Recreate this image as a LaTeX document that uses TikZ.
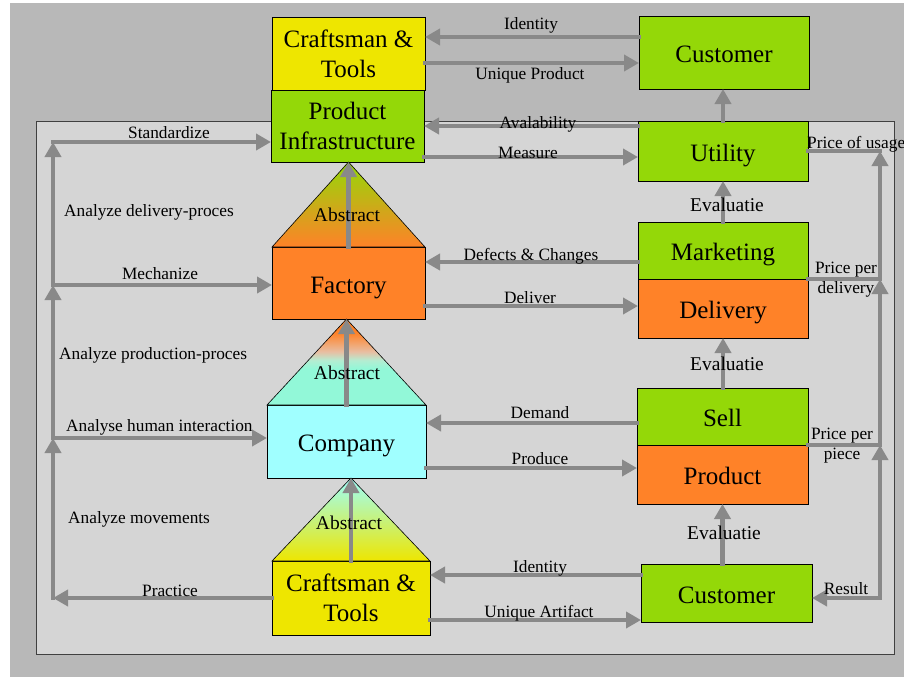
\documentclass[tikz,border=0pt]{standalone}
\usepackage{fontspec}
\setmainfont{Liberation Serif}
\usetikzlibrary{arrows.meta}

\definecolor{bgouter}{HTML}{B8B8B8}
\definecolor{bginner}{HTML}{D5D5D5}
\definecolor{flowgray}{HTML}{898989}
\definecolor{craftyellow}{HTML}{EEE600}
\definecolor{leafgreen}{HTML}{94D808}
\definecolor{factorange}{HTML}{FF8228}
\definecolor{compcyan}{HTML}{A0FFFF}
\definecolor{mint}{HTML}{92F8D8}
\definecolor{palepeach}{HTML}{E8BEA2}
\definecolor{palemint}{HTML}{B4EDD2}
\definecolor{olive}{HTML}{D2B422}

\pgfdeclareverticalshading{roofcompany}{100bp}{color(0bp)=(mint); color(46bp)=(mint);
  color(51bp)=(palemint); color(56bp)=(palepeach); color(67bp)=(factorange); color(100bp)=(factorange)}

\tikzset{
  box/.style={draw=black, line width=0.8pt, align=center, inner sep=0pt, outer sep=0pt,
    font=\fontsize{25}{30}\selectfont},
  onebox/.style={box, text height=20pt, text depth=0pt},
  flowline/.style={draw=flowgray, line width=4.5pt, line cap=rect},
  flow/.style={flowline, -{Triangle[length=15pt,width=16pt]}},
  lbl/.style={font=\fontsize{17.3}{20}\selectfont, align=center, inner sep=0pt, yshift=-2pt},
  biglbl/.style={font=\fontsize{19.5}{22}\selectfont, inner sep=0pt}
}

\begin{document}
\begin{tikzpicture}[x=1pt, y=-1pt]
        \useasboundingbox (0,0) rectangle (904,677);
        \fill[bgouter] (10,3) rectangle (904,677);
        \draw[fill=bginner, draw=black!75, line width=0.8pt] (36,121) rectangle (894,654);

        % boxes
        \node[box, fill=craftyellow, minimum width=153pt, minimum height=73pt] (craftT) at (348.5,53.5) {Craftsman \&\\Tools};
        \node[box, fill=leafgreen, minimum width=153pt, minimum height=72pt] (infra) at (347.5,126) {Product\\Infrastructure};
        \node[onebox, fill=leafgreen, minimum width=170pt, minimum height=73pt] (custT) at (724,52.5) {Customer};
        \node[onebox, fill=leafgreen, minimum width=170pt, minimum height=60pt] (util) at (723,151) {Utility};
        \node[onebox, fill=leafgreen, minimum width=170pt, minimum height=57pt] (market) at (723,250.5) {Marketing};
        \node[onebox, fill=factorange, minimum width=170pt, minimum height=59pt] (deliv) at (723,308.5) {Delivery};
        \node[onebox, fill=factorange, minimum width=153pt, minimum height=72pt] (fact) at (348.5,283) {Factory};
        \node[onebox, fill=compcyan, minimum width=159pt, minimum height=73pt] (comp) at (346.5,441.5) {Company};
        \node[box, fill=craftyellow, minimum width=158pt, minimum height=74pt] (craftB) at (351,598) {Craftsman \&\\Tools};
        \node[onebox, fill=leafgreen, minimum width=171pt, minimum height=57pt] (sell) at (722.5,416.5) {Sell};
        \node[onebox, fill=factorange, minimum width=171pt, minimum height=59pt] (prod) at (722.5,474.5) {Product};
        \node[onebox, fill=leafgreen, minimum width=171pt, minimum height=58pt] (custB) at (726.5,593) {Customer};

        % abstraction roofs
        \draw[top color=leafgreen, middle color=olive, bottom color=factorange, line width=0.6pt] (fact.north west) -- (fact.north |- infra.south) -- (fact.north east) -- cycle;
        \draw[shading=roofcompany, line width=0.6pt] (comp.north west) -- (comp.north |- fact.south) -- (comp.north east) -- cycle;
        \draw[top color=compcyan!85!mint, bottom color=craftyellow, line width=0.6pt] (craftB.north west) -- (craftB.north |- comp.south) -- (craftB.north east) -- cycle;

        \draw[flow] (fact.north) -- (fact.north |- infra.south);
        \draw[flow] (comp.north) -- (comp.north |- fact.south);
        \draw[flow] (craftB.north) -- (craftB.north |- comp.south);

        % horizontal flows
        \draw[flow] (custT.west |- 0,37) -- (craftT.east |- 0,37);
        \draw[flow] (craftT.east |- 0,63) -- (custT.west |- 0,63);
        \draw[flow] (util.west |- 0,126) -- (infra.east |- 0,126);
        \draw[flow] (infra.east |- 0,157) -- (util.west |- 0,157);
        \draw[flow] (market.west |- 0,262) -- (fact.east |- 0,262);
        \draw[flow] (fact.east |- 0,306) -- (deliv.west |- 0,306);
        \draw[flow] (sell.west |- 0,423) -- (comp.east |- 0,423);
        \draw[flow] (comp.east |- 0,468) -- (prod.west |- 0,468);
        \draw[flow] (custB.west |- 0,575) -- (craftB.east |- 0,575);
        \draw[flow] (craftB.east |- 0,620) -- (custB.west |- 0,620);

        % evaluations
        \draw[flow] (util.north) -- (util.north |- custT.south);
        \foreach \a/\b in {market/util, sell/deliv, custB/prod}{
          \draw[flow] (\a.north -| \b.south) -- (\b.south);}

        % left loop
        \coordinate (l1) at (53,142);
        \coordinate (l2) at (53,285);
        \coordinate (l3) at (53,438);
        \coordinate (l4) at (53,598);
        \draw[flow] (craftB.west) -- (l4);
        \draw[flow] (l4) -- (l3);
        \draw[flow] (l3) -- (l2);
        \draw[flow] (l2) -- (l1);
        \draw[flow] (l3) -- (comp.west |- l3);
        \draw[flow] (l2) -- (fact.west |- l2);
        \draw[flow] (l1) -- (infra.west |- l1);

        % right loop
        \coordinate (r1) at (880,151);
        \coordinate (r2) at (880,279);
        \coordinate (r3) at (880,445);
        \coordinate (r4) at (880,598);
        \draw[flowline] (util.east) -- (r1);
        \draw[flowline] (deliv.north east) -- (r2);
        \draw[flowline] (prod.north east) -- (r3);
        \draw[flow] (r4) -- (r3);
        \draw[flow] (r3) -- (r2);
        \draw[flow] (r2) -- (r1);
        \draw[flow] (r4) -- (custB.east |- r4);

        % labels
        \node[lbl] (tIdT) at (531,23) {Identity};
        \node[lbl] (tUniq) at (530,73) {Unique Product};
        \node[lbl] (tAval) at (538,122) {Avalability};
        \node[lbl] (tMeas) at (528,151) {Measure};
        \node[lbl] (tDef) at (531,254) {Defects \& Changes};
        \node[lbl] (tDel) at (530,296) {Deliver};
        \node[lbl] (tDem) at (540,411) {Demand};
        \node[lbl] (tProd) at (540,457) {Produce};
        \node[lbl] (tIdB) at (540,566) {Identity};
        \node[lbl] (tArt) at (539,611) {Unique Artifact};
        \node[lbl] (tStd) at (169,131) {Standardize};
        \node[lbl, anchor=west] (tAdp) at (64,210) {Analyze delivery-proces};
        \node[lbl] (tMech) at (160,272) {Mechanize};
        \node[lbl, anchor=west] (tApp) at (59,353) {Analyze production-proces};
        \node[lbl, anchor=west] (tAhi) at (66,425) {Analyse human interaction};
        \node[lbl, anchor=west] (tAmv) at (68,517) {Analyze movements};
        \node[lbl] (tPrac) at (170,589) {Practice};
        \node[lbl, anchor=west] (tUsage) at (807,142) {Price of usage};
        \node[lbl] (tPdel) at (846,278) {Price per\\delivery};
        \node[lbl] (tPpc) at (842,444) {Price per\\piece};
        \node[lbl] (tRes) at (846,587) {Result};
        \node[biglbl] (tAb1) at (347,215) {Abstract};
        \node[biglbl] (tAb2) at (347,373) {Abstract};
        \node[biglbl] (tAb3) at (349,523) {Abstract};
        \node[biglbl] (tEv1) at (727,205) {Evaluatie};
        \node[biglbl] (tEv2) at (727,364) {Evaluatie};
        \node[biglbl] (tEv3) at (724,533) {Evaluatie};
      \end{tikzpicture}
\end{document}
